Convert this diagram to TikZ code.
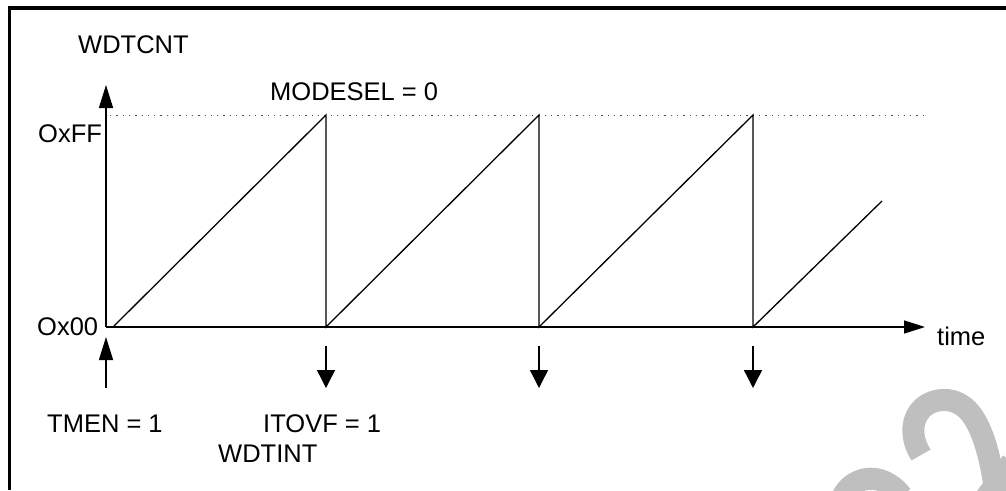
\documentclass[tikz,border=0pt]{standalone}
\usepackage{fontspec}
\setmainfont{Liberation Sans}
\usetikzlibrary{arrows.meta}
\begin{document}
\begin{tikzpicture}[x=1pt,y=-1pt,
  lbl/.style={inner sep=0pt,anchor=base west,font=\fontsize{25.5}{30}\selectfont},
  axis/.style={line width=1.4pt},
  wave/.style={line width=1.3pt},
  bigtip/.style={-{Triangle[length=23pt,width=14pt]}},
  timetip/.style={-{Triangle[length=21pt,width=13pt]}},
  evtip/.style={-{Triangle[length=18pt,width=18pt]}},
  frame/.style={line width=3.6pt},
  guide/.style={line width=0.9pt,dash pattern=on 1.3pt off 5pt,black!70},
  wmark/.style={line width=22pt,color=black!25}]
\useasboundingbox (0,0) rectangle (1006,490);
% frame
\draw[frame] (9.5,490) -- (9.5,8) -- (1006,8);
% watermark fragment
\begin{scope}
\clip (0,0) rectangle (1006,490);
\draw[wmark] (921,455) .. controls (905,430) and (915,402) .. (942,400)
  .. controls (975,398) and (988,440) .. (996,495);
\draw[wmark] (842,498) .. controls (850,478) and (880,468) .. (902,496);
\draw[wmark] (984,500) -- (1012,462);
\end{scope}
% coordinates
\coordinate (o) at (106,327);
\coordinate (ytop) at (106,85);
\coordinate (xend) at (925,327);
\coordinate (g0) at (110,115);
\coordinate (g1) at (926,115);
\coordinate (s0) at (113,327);
\coordinate (p1) at (326,115);
\coordinate (b1) at (326,327);
\coordinate (p2) at (539,115);
\coordinate (b2) at (539,327);
\coordinate (p3) at (753,115);
\coordinate (b3) at (753,327);
\coordinate (e4) at (882,201);
\coordinate (u0) at (106,388);
\coordinate (u1) at (106,337);
\coordinate (d1a) at (326,346);
\coordinate (d1b) at (326,388);
\coordinate (d2a) at (539,346);
\coordinate (d2b) at (539,388);
\coordinate (d3a) at (753,346);
\coordinate (d3b) at (753,388);
% guide
\draw[guide] (g0) -- (g1);
% axes
\draw[axis,bigtip] (o) -- (ytop);
\draw[axis,timetip] (o) -- (xend);
% sawtooth
\draw[wave] (s0) -- (p1) -- (b1) -- (p2) -- (b2) -- (p3) -- (b3) -- (e4);
% event arrows
\draw[axis,bigtip] (u0) -- (u1);
\draw[axis,evtip] (d1a) -- (d1b);
\draw[axis,evtip] (d2a) -- (d2b);
\draw[axis,evtip] (d3a) -- (d3b);
% labels
\node[lbl] (wdtcnt) at (78,53) {WDTCNT};
\node[lbl] (modesel) at (270,100) {MODESEL = 0};
\node[lbl] (offh) at (38,142) {OxFF};
\node[lbl] (zero) at (37,335) {Ox00};
\node[lbl] (time) at (937,345) {time};
\node[lbl] (tmen) at (47,432) {TMEN = 1};
\node[lbl] (itovf) at (263,432) {ITOVF = 1};
\node[lbl] (wdtint) at (218,462) {WDTINT};
\end{tikzpicture}
\end{document}
